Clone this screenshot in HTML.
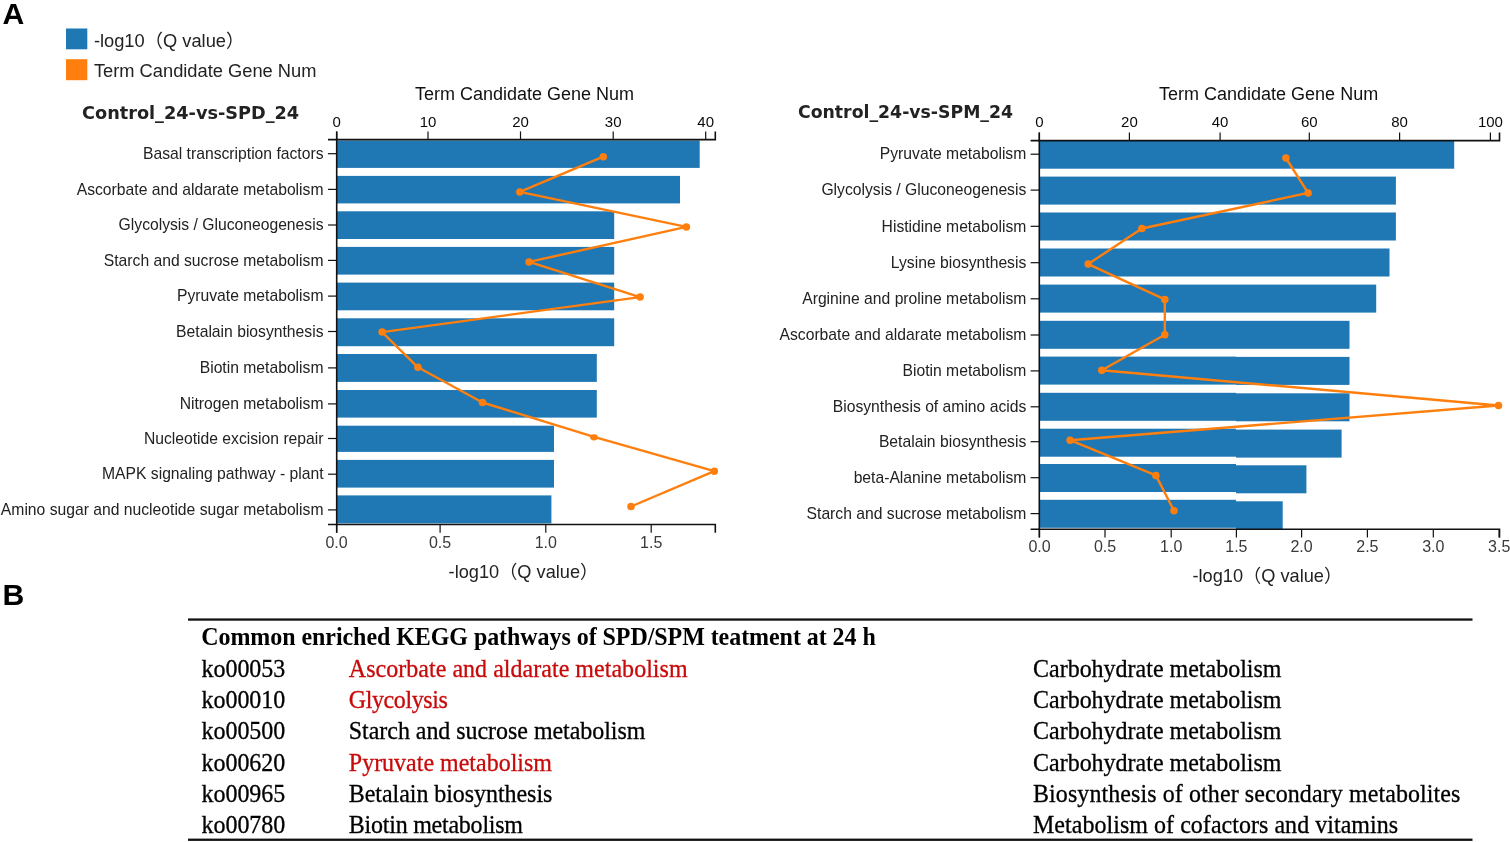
<!DOCTYPE html>
<html lang="en"><head><meta charset="utf-8"><title>KEGG enrichment</title>
<style>
html,body{margin:0;padding:0;background:#fff;}
body{width:1510px;height:842px;overflow:hidden;position:relative;}
svg{position:absolute;left:0;top:0;display:block;filter:blur(0.3px);}
text{font-family:"Liberation Sans","Noto Sans CJK SC",sans-serif;fill:#222;}
.ylab{font-size:15.65px;text-anchor:end;}
.tick{font-size:15px;text-anchor:middle;fill:#0a0a0a;}
.btick{font-size:16px;text-anchor:middle;fill:#3a3a3a;}
.tk{stroke:#111;stroke-width:1.2;fill:none;}
.axt{font-size:18px;text-anchor:middle;fill:#111;}
.axb{font-size:18.2px;text-anchor:middle;fill:#222;}
.ttl{font-family:"DejaVu Sans","Liberation Sans",sans-serif;font-weight:bold;font-size:17.7px;fill:#222;}
.leg{font-size:18.3px;fill:#222;}
.pan{font-weight:bold;font-size:30.2px;fill:#000;}
.tb{font-family:"Liberation Serif",serif;font-size:24px;fill:#000;stroke:#000;stroke-width:0.3;}
.tbh{font-family:"Liberation Serif",serif;font-size:24px;font-weight:bold;fill:#000;}
.red{fill:#c80a0a;stroke:#c80a0a;}
.ax{stroke:#111;stroke-width:1.6;fill:none;}
.ln{stroke:#ff7f0e;stroke-width:2.4;fill:none;stroke-linejoin:round;}
</style></head><body>
<svg width="1510" height="842" viewBox="0 0 1510 842">

<text class="pan" x="2.5" y="24.2">A</text>
<text class="pan" x="2.4" y="604.8">B</text>
<rect x="66" y="28.5" width="21.3" height="20.8" fill="#1f77b4"/>
<rect x="66" y="59.2" width="21.3" height="21" fill="#ff7f0e"/>
<text class="leg" x="93.9" y="46.8">-log10（Q value）</text>
<text class="leg" x="93.9" y="77.2">Term Candidate Gene Num</text>
<rect x="336.7" y="140.50" width="363.00" height="27.40" fill="#1f77b4"/>
<rect x="336.7" y="175.90" width="343.30" height="27.50" fill="#1f77b4"/>
<rect x="336.7" y="211.30" width="277.50" height="27.70" fill="#1f77b4"/>
<rect x="336.7" y="246.90" width="277.50" height="27.70" fill="#1f77b4"/>
<rect x="336.7" y="282.60" width="277.50" height="27.70" fill="#1f77b4"/>
<rect x="336.7" y="318.30" width="277.50" height="27.90" fill="#1f77b4"/>
<rect x="336.7" y="354.00" width="260.10" height="27.90" fill="#1f77b4"/>
<rect x="336.7" y="390.00" width="260.10" height="27.60" fill="#1f77b4"/>
<rect x="336.7" y="425.70" width="217.30" height="26.20" fill="#1f77b4"/>
<rect x="336.7" y="459.90" width="217.30" height="27.70" fill="#1f77b4"/>
<rect x="336.7" y="495.40" width="214.70" height="28.00" fill="#1f77b4"/>
<path class="ax" d="M328.0,139.6 H336.7 V524.5 H328.0"/>
<path class="ax" d="M336.7,131.4 V139.6 H715.3 V131.4"/>
<path class="ax" d="M336.7,532.7 V524.5 H715.3 V532.7"/>
<path class="tk" d="M336.7,131.4 V139.6"/>
<text class="tick" x="336.7" y="127.3">0</text>
<path class="tk" d="M428.0,131.4 V139.6"/>
<text class="tick" x="428.0" y="127.3">10</text>
<path class="tk" d="M520.5,131.4 V139.6"/>
<text class="tick" x="520.5" y="127.3">20</text>
<path class="tk" d="M613.2,131.4 V139.6"/>
<text class="tick" x="613.2" y="127.3">30</text>
<path class="tk" d="M705.7,131.4 V139.6"/>
<text class="tick" x="705.7" y="127.3">40</text>
<path class="tk" d="M336.6,532.7 V524.5"/>
<text class="btick" x="336.6" y="547.8">0.0</text>
<path class="tk" d="M440.1,532.7 V524.5"/>
<text class="btick" x="440.1" y="547.8">0.5</text>
<path class="tk" d="M545.8,532.7 V524.5"/>
<text class="btick" x="545.8" y="547.8">1.0</text>
<path class="tk" d="M651.2,532.7 V524.5"/>
<text class="btick" x="651.2" y="547.8">1.5</text>
<path class="tk" d="M328.0,153.70 H336.7"/>
<text class="ylab" style="font-size:15.7px" x="323.5" y="158.90">Basal transcription factors</text>
<path class="tk" d="M328.0,189.40 H336.7"/>
<text class="ylab" style="font-size:15.7px" x="323.5" y="194.60">Ascorbate and aldarate metabolism</text>
<path class="tk" d="M328.0,225.00 H336.7"/>
<text class="ylab" style="font-size:15.7px" x="323.5" y="230.20">Glycolysis / Gluconeogenesis</text>
<path class="tk" d="M328.0,260.40 H336.7"/>
<text class="ylab" style="font-size:15.7px" x="323.5" y="265.60">Starch and sucrose metabolism</text>
<path class="tk" d="M328.0,296.10 H336.7"/>
<text class="ylab" style="font-size:15.7px" x="323.5" y="301.30">Pyruvate metabolism</text>
<path class="tk" d="M328.0,331.50 H336.7"/>
<text class="ylab" style="font-size:15.7px" x="323.5" y="336.70">Betalain biosynthesis</text>
<path class="tk" d="M328.0,367.90 H336.7"/>
<text class="ylab" style="font-size:15.7px" x="323.5" y="373.10">Biotin metabolism</text>
<path class="tk" d="M328.0,403.90 H336.7"/>
<text class="ylab" style="font-size:15.7px" x="323.5" y="409.10">Nitrogen metabolism</text>
<path class="tk" d="M328.0,438.50 H336.7"/>
<text class="ylab" style="font-size:15.7px" x="323.5" y="443.70">Nucleotide excision repair</text>
<path class="tk" d="M328.0,474.20 H336.7"/>
<text class="ylab" style="font-size:15.7px" x="323.5" y="479.40">MAPK signaling pathway - plant</text>
<path class="tk" d="M328.0,509.90 H336.7"/>
<text class="ylab" style="font-size:15.7px" x="323.5" y="515.10">Amino sugar and nucleotide sugar metabolism</text>
<path class="ln" d="M603.3,156.7 L519.8,191.9 L686.4,226.9 L529.1,261.9 L640.1,297.1 L382.1,332.1 L417.9,367.3 L482.5,402.5 L594.0,436.8 L714.3,471.2 L631.0,506.5"/>
<circle cx="603.3" cy="156.7" r="3.75" fill="#ff7f0e"/>
<circle cx="519.8" cy="191.9" r="3.75" fill="#ff7f0e"/>
<circle cx="686.4" cy="226.9" r="3.75" fill="#ff7f0e"/>
<circle cx="529.1" cy="261.9" r="3.75" fill="#ff7f0e"/>
<circle cx="640.1" cy="297.1" r="3.75" fill="#ff7f0e"/>
<circle cx="382.1" cy="332.1" r="3.75" fill="#ff7f0e"/>
<circle cx="417.9" cy="367.3" r="3.75" fill="#ff7f0e"/>
<circle cx="482.5" cy="402.5" r="3.75" fill="#ff7f0e"/>
<ellipse cx="594.0" cy="437.3" rx="3.9" ry="3.1" fill="#ff7f0e"/>
<circle cx="714.3" cy="471.2" r="3.75" fill="#ff7f0e"/>
<circle cx="631.0" cy="506.5" r="3.75" fill="#ff7f0e"/>
<text class="ttl" style="font-size:17.7px" x="82" y="118.9">Control_24-vs-SPD_24</text>
<text class="axt" x="524.5" y="100.2">Term Candidate Gene Num</text>
<text class="axb" style="text-anchor:start" x="448.6" y="577.6">-log10（Q value）</text>
<rect x="1039.3" y="140.70" width="414.90" height="28.00" fill="#1f77b4"/>
<rect x="1039.3" y="176.60" width="356.60" height="28.00" fill="#1f77b4"/>
<rect x="1039.3" y="212.50" width="356.60" height="28.00" fill="#1f77b4"/>
<rect x="1039.3" y="248.50" width="350.20" height="28.00" fill="#1f77b4"/>
<rect x="1039.3" y="284.60" width="336.90" height="28.00" fill="#1f77b4"/>
<rect x="1039.3" y="320.80" width="310.20" height="28.00" fill="#1f77b4"/>
<rect x="1039.3" y="356.60" width="196.70" height="28.00" fill="#1f77b4"/>
<rect x="1236" y="356.90" width="113.50" height="28.00" fill="#1f77b4"/>
<rect x="1039.3" y="392.80" width="196.70" height="28.00" fill="#1f77b4"/>
<rect x="1236" y="393.30" width="113.50" height="28.00" fill="#1f77b4"/>
<rect x="1039.3" y="428.70" width="196.70" height="28.00" fill="#1f77b4"/>
<rect x="1236" y="429.60" width="105.60" height="28.00" fill="#1f77b4"/>
<rect x="1039.3" y="464.00" width="196.70" height="28.00" fill="#1f77b4"/>
<rect x="1236" y="465.30" width="70.40" height="28.00" fill="#1f77b4"/>
<rect x="1039.3" y="499.80" width="196.70" height="28.00" fill="#1f77b4"/>
<rect x="1236" y="501.30" width="46.70" height="28.00" fill="#1f77b4"/>
<path class="ax" d="M1030.6,140.6 H1039.3 V529.2 H1030.6"/>
<path class="ax" d="M1039.3,132.4 V140.6 H1499.5 V132.4"/>
<path class="ax" d="M1039.3,537.4000000000001 V529.2 H1499.5 V537.4000000000001"/>
<path class="tk" d="M1039.3,132.4 V140.6"/>
<text class="tick" x="1039.3" y="127.3">0</text>
<path class="tk" d="M1129.4,132.4 V140.6"/>
<text class="tick" x="1129.4" y="127.3">20</text>
<path class="tk" d="M1220.1,132.4 V140.6"/>
<text class="tick" x="1220.1" y="127.3">40</text>
<path class="tk" d="M1309.3,132.4 V140.6"/>
<text class="tick" x="1309.3" y="127.3">60</text>
<path class="tk" d="M1399.6,132.4 V140.6"/>
<text class="tick" x="1399.6" y="127.3">80</text>
<path class="tk" d="M1490.4,132.4 V140.6"/>
<text class="tick" x="1490.4" y="127.3">100</text>
<path class="tk" d="M1039.5,537.4000000000001 V529.2"/>
<text class="btick" x="1039.5" y="552.4">0.0</text>
<path class="tk" d="M1105.0,537.4000000000001 V529.2"/>
<text class="btick" x="1105.0" y="552.4">0.5</text>
<path class="tk" d="M1171.2,537.4000000000001 V529.2"/>
<text class="btick" x="1171.2" y="552.4">1.0</text>
<path class="tk" d="M1236.4,537.4000000000001 V529.2"/>
<text class="btick" x="1236.4" y="552.4">1.5</text>
<path class="tk" d="M1301.6,537.4000000000001 V529.2"/>
<text class="btick" x="1301.6" y="552.4">2.0</text>
<path class="tk" d="M1367.4,537.4000000000001 V529.2"/>
<text class="btick" x="1367.4" y="552.4">2.5</text>
<path class="tk" d="M1433.3,537.4000000000001 V529.2"/>
<text class="btick" x="1433.3" y="552.4">3.0</text>
<path class="tk" d="M1499.2,537.4000000000001 V529.2"/>
<text class="btick" x="1499.2" y="552.4">3.5</text>
<path class="tk" d="M1030.6,154.20 H1039.3"/>
<text class="ylab" style="font-size:15.7px" x="1026.3" y="159.40">Pyruvate metabolism</text>
<path class="tk" d="M1030.6,190.10 H1039.3"/>
<text class="ylab" style="font-size:15.7px" x="1026.3" y="195.30">Glycolysis / Gluconeogenesis</text>
<path class="tk" d="M1030.6,226.30 H1039.3"/>
<text class="ylab" style="font-size:15.7px" x="1026.3" y="231.50">Histidine metabolism</text>
<path class="tk" d="M1030.6,262.70 H1039.3"/>
<text class="ylab" style="font-size:15.7px" x="1026.3" y="267.90">Lysine biosynthesis</text>
<path class="tk" d="M1030.6,298.80 H1039.3"/>
<text class="ylab" style="font-size:15.7px" x="1026.3" y="304.00">Arginine and proline metabolism</text>
<path class="tk" d="M1030.6,335.00 H1039.3"/>
<text class="ylab" style="font-size:15.7px" x="1026.3" y="340.20">Ascorbate and aldarate metabolism</text>
<path class="tk" d="M1030.6,370.90 H1039.3"/>
<text class="ylab" style="font-size:15.7px" x="1026.3" y="376.10">Biotin metabolism</text>
<path class="tk" d="M1030.6,406.80 H1039.3"/>
<text class="ylab" style="font-size:15.7px" x="1026.3" y="412.00">Biosynthesis of amino acids</text>
<path class="tk" d="M1030.6,441.70 H1039.3"/>
<text class="ylab" style="font-size:15.7px" x="1026.3" y="446.90">Betalain biosynthesis</text>
<path class="tk" d="M1030.6,477.70 H1039.3"/>
<text class="ylab" style="font-size:15.7px" x="1026.3" y="482.90">beta-Alanine metabolism</text>
<path class="tk" d="M1030.6,513.60 H1039.3"/>
<text class="ylab" style="font-size:15.7px" x="1026.3" y="518.80">Starch and sucrose metabolism</text>
<path class="ln" d="M1285.9,158.0 L1308.1,192.9 L1141.9,228.5 L1088.2,264.1 L1164.8,299.4 L1164.8,334.8 L1101.8,370.2 L1498.5,405.5 L1070.1,440.2 L1155.9,475.4 L1174.0,510.7"/>
<circle cx="1285.9" cy="158.0" r="3.75" fill="#ff7f0e"/>
<circle cx="1308.1" cy="192.9" r="3.75" fill="#ff7f0e"/>
<circle cx="1141.9" cy="228.5" r="3.75" fill="#ff7f0e"/>
<circle cx="1088.2" cy="264.1" r="3.75" fill="#ff7f0e"/>
<circle cx="1164.8" cy="299.4" r="3.75" fill="#ff7f0e"/>
<circle cx="1164.8" cy="334.8" r="3.75" fill="#ff7f0e"/>
<circle cx="1101.8" cy="370.2" r="3.75" fill="#ff7f0e"/>
<circle cx="1498.5" cy="405.5" r="3.75" fill="#ff7f0e"/>
<circle cx="1070.1" cy="440.2" r="3.75" fill="#ff7f0e"/>
<circle cx="1155.9" cy="475.4" r="3.75" fill="#ff7f0e"/>
<circle cx="1174.0" cy="510.7" r="3.75" fill="#ff7f0e"/>
<text class="ttl" style="font-size:17.3px" x="798.0" y="118.3">Control_24-vs-SPM_24</text>
<text class="axt" x="1268.6" y="100.4">Term Candidate Gene Num</text>
<text class="axb" style="text-anchor:start" x="1192.5" y="582">-log10（Q value）</text>
<rect x="188" y="618.4" width="1284.5" height="2.3" fill="#111"/>
<rect x="188" y="838.6" width="1284.5" height="2.3" fill="#111"/>
<text class="tbh" style="letter-spacing:-0.055px" transform="translate(201.2,645.30) scale(1,1.05)">Common enriched KEGG pathways of SPD/SPM teatment at 24 h</text>
<text class="tb" transform="translate(201.4,676.80) scale(1,1.05)">ko00053</text>
<text class="tb red" style="letter-spacing:0.035px" transform="translate(348.8,676.80) scale(1,1.05)">Ascorbate and aldarate metabolism</text>
<text class="tb" transform="translate(1033,676.80) scale(1,1.05)">Carbohydrate metabolism</text>
<text class="tb" transform="translate(201.4,708.07) scale(1,1.05)">ko00010</text>
<text class="tb red" style="letter-spacing:-0.39px" transform="translate(348.8,708.07) scale(1,1.05)">Glycolysis</text>
<text class="tb" transform="translate(1033,708.07) scale(1,1.05)">Carbohydrate metabolism</text>
<text class="tb" transform="translate(201.4,739.34) scale(1,1.05)">ko00500</text>
<text class="tb" style="letter-spacing:-0.04px" transform="translate(348.8,739.34) scale(1,1.05)">Starch and sucrose metabolism</text>
<text class="tb" transform="translate(1033,739.34) scale(1,1.05)">Carbohydrate metabolism</text>
<text class="tb" transform="translate(201.4,770.61) scale(1,1.05)">ko00620</text>
<text class="tb red" transform="translate(348.8,770.61) scale(1,1.05)">Pyruvate metabolism</text>
<text class="tb" transform="translate(1033,770.61) scale(1,1.05)">Carbohydrate metabolism</text>
<text class="tb" transform="translate(201.4,801.88) scale(1,1.05)">ko00965</text>
<text class="tb" style="letter-spacing:-0.05px" transform="translate(348.8,801.88) scale(1,1.05)">Betalain biosynthesis</text>
<text class="tb" style="letter-spacing:0.088px" transform="translate(1033,801.88) scale(1,1.05)">Biosynthesis of other secondary metabolites</text>
<text class="tb" transform="translate(201.4,833.15) scale(1,1.05)">ko00780</text>
<text class="tb" style="letter-spacing:-0.23px" transform="translate(348.8,833.15) scale(1,1.05)">Biotin metabolism</text>
<text class="tb" style="letter-spacing:0.04px" transform="translate(1033,833.15) scale(1,1.05)">Metabolism of cofactors and vitamins</text>
</svg></body></html>
